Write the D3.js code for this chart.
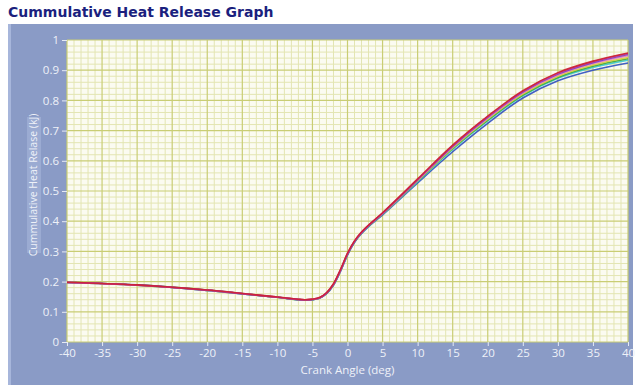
<!DOCTYPE html>
<html>
<head>
<meta charset="utf-8">
<script src="https://cdn.jsdelivr.net/npm/d3@7"></script>
<style>
  body { margin: 0; background: #fff; }
  svg { display: block; }
</style>
</head>
<body>
<div id="chart-area"></div>
<script>
var canvasWidth = 639
var canvasHeight = 385
var margin = {top: 40, right: 11, bottom: 43, left: 67}
var chartWidth = canvasWidth - margin.left - margin.right
var chartHeight = canvasHeight - margin.top - margin.bottom

// crank angle (deg)
var angles = [-40,-30,-20,-10,-6,-4,-3,-2,-1,0,1,2,3,5,10,15,20,25,30,35,40]

// cumulative heat release (kJ), one array per cycle
var red     = [0.198,0.189,0.172,0.149,0.140,0.147,0.163,0.193,0.240,0.294,0.335,0.364,0.387,0.428,0.540,0.652,0.748,0.832,0.892,0.930,0.957]
var magenta = [0.197,0.188,0.172,0.148,0.140,0.146,0.162,0.191,0.238,0.292,0.334,0.363,0.386,0.427,0.538,0.650,0.746,0.830,0.890,0.928,0.955]
var purple  = [0.197,0.189,0.171,0.148,0.139,0.146,0.161,0.190,0.236,0.290,0.332,0.362,0.385,0.426,0.537,0.648,0.744,0.828,0.887,0.925,0.952]
var pink    = [0.198,0.188,0.172,0.149,0.140,0.147,0.163,0.192,0.239,0.293,0.334,0.363,0.386,0.426,0.536,0.646,0.741,0.825,0.884,0.922,0.948]
var yellow  = [0.197,0.188,0.171,0.148,0.140,0.146,0.162,0.191,0.237,0.291,0.333,0.362,0.385,0.425,0.534,0.643,0.738,0.821,0.880,0.917,0.942]
var green   = [0.198,0.189,0.172,0.148,0.139,0.146,0.161,0.190,0.237,0.291,0.332,0.361,0.384,0.424,0.533,0.641,0.735,0.818,0.876,0.913,0.938]
var cyan    = [0.197,0.188,0.171,0.148,0.139,0.145,0.161,0.189,0.235,0.289,0.331,0.360,0.383,0.423,0.531,0.638,0.732,0.815,0.873,0.909,0.933]
var blue    = [0.197,0.188,0.171,0.148,0.139,0.145,0.160,0.188,0.234,0.288,0.330,0.359,0.382,0.421,0.527,0.630,0.724,0.808,0.865,0.900,0.924]

var series = [
  {name: "blue", values: blue, color: "#2f4fc0"},
  {name: "cyan", values: cyan, color: "#3cc8d0"},
  {name: "green", values: green, color: "#3aa83a"},
  {name: "yellow", values: yellow, color: "#dccc3c"},
  {name: "pink", values: pink, color: "#e47cc0"},
  {name: "purple", values: purple, color: "#7a3cc4"},
  {name: "magenta", values: magenta, color: "#c83c9c"},
  {name: "red", values: red, color: "#cc2030"}
]

var xTicks = d3.range(-40, 41, 5)
var yTicks = [0, 0.1, 0.2, 0.3, 0.4, 0.5, 0.6, 0.7, 0.8, 0.9, 1]

var svg = d3.select("#chart-area")
  .append("svg")
  .attr("width", canvasWidth)
  .attr("height", canvasHeight)

// title
svg.append("text")
  .attr("x", 8)
  .attr("y", 17)
  .attr("fill", "#1b1f7e")
  .attr("font-family", "DejaVu Sans")
  .attr("font-weight", "bold")
  .attr("font-size", "14px")
  .text("Cummulative Heat Release Graph")

// blue panel
svg.append("rect")
  .attr("x", 8).attr("y", 24)
  .attr("width", 625).attr("height", 361)
  .attr("fill", "#8a9bc6")
svg.append("rect")
  .attr("x", 8).attr("y", 24)
  .attr("width", 3).attr("height", 361)
  .attr("fill", "#a7b6db")

var x = d3.scaleLinear().domain([-40, 40]).range([0, chartWidth])
var y = d3.scaleLinear().domain([0, 1]).range([chartHeight, 0])

var g = svg.append("g")
  .attr("transform", "translate(" + margin.left + "," + margin.top + ")")

g.append("rect")
  .attr("width", chartWidth).attr("height", chartHeight)
  .attr("fill", "#fbfbf1")

// minor grid
g.append("g").selectAll("line")
  .data(d3.range(-40, 41, 1).filter(function(d){ return d % 5 != 0 }))
  .enter().append("line")
    .attr("x1", function(d){ return x(d) }).attr("x2", function(d){ return x(d) })
    .attr("y1", 0).attr("y2", chartHeight)
    .attr("stroke", "#e3e5b2").attr("stroke-width", 1)

g.append("g").selectAll("line")
  .data(d3.range(0, 51, 1).filter(function(d){ return d % 5 != 0 }))
  .enter().append("line")
    .attr("y1", function(d){ return y(d / 50) }).attr("y2", function(d){ return y(d / 50) })
    .attr("x1", 0).attr("x2", chartWidth)
    .attr("stroke", "#e3e5b2").attr("stroke-width", 1)

// major grid
g.append("g").selectAll("line")
  .data(xTicks)
  .enter().append("line")
    .attr("x1", function(d){ return x(d) }).attr("x2", function(d){ return x(d) })
    .attr("y1", 0).attr("y2", chartHeight)
    .attr("stroke", "#c9cd74").attr("stroke-width", 1.2)

g.append("g").selectAll("line")
  .data(yTicks)
  .enter().append("line")
    .attr("y1", function(d){ return y(d) }).attr("y2", function(d){ return y(d) })
    .attr("x1", 0).attr("x2", chartWidth)
    .attr("stroke", "#c9cd74").attr("stroke-width", 1.2)

// axes
var xAxis = g.append("g")
  .attr("transform", "translate(0," + chartHeight + ")")
  .call(d3.axisBottom(x).tickValues(xTicks).tickSize(4).tickPadding(3)
    .tickFormat(function(d){ return String(d) }))

var yAxis = g.append("g")
  .call(d3.axisLeft(y).tickValues(yTicks).tickSize(5).tickPadding(3)
    .tickFormat(function(d){ return String(+d.toFixed(1)) }))

;[xAxis, yAxis].forEach(function(a){
  a.select(".domain").remove()
  a.selectAll("line").attr("stroke", "#e6eaf4")
  a.selectAll("text")
    .attr("fill", "#eef1f8")
    .attr("font-family", "Open Sans")
    .attr("font-size", "11.5px")
})

// curves
var line = d3.line()
  .x(function(d, i){ return x(angles[i]) })
  .y(function(d){ return y(d) })
  .curve(d3.curveCatmullRom.alpha(0.5))

g.append("g").selectAll("path")
  .data(series)
  .enter().append("path")
    .attr("d", function(d){ return line(d.values) })
    .attr("fill", "none")
    .attr("stroke", function(d){ return d.color })
    .attr("stroke-width", 1.6)
    .attr("stroke-opacity", 0.9)

// axis titles
svg.append("text")
  .attr("x", margin.left + chartWidth / 2)
  .attr("y", 374)
  .attr("text-anchor", "middle")
  .attr("fill", "#eef1f8")
  .attr("font-family", "Open Sans")
  .attr("font-size", "11.5px")
  .text("Crank Angle (deg)")

svg.append("rect")
  .attr("x", 27).attr("y", 117)
  .attr("width", 14).attr("height", 136)
  .attr("fill", "#9babd2")

svg.append("text")
  .attr("transform", "translate(37,185) rotate(-90)")
  .attr("text-anchor", "middle")
  .attr("fill", "#eef1f8")
  .attr("font-family", "Open Sans")
  .attr("font-size", "10.5px")
  .text("Cummulative Heat Relase (kJ)")
</script>
</body>
</html>
